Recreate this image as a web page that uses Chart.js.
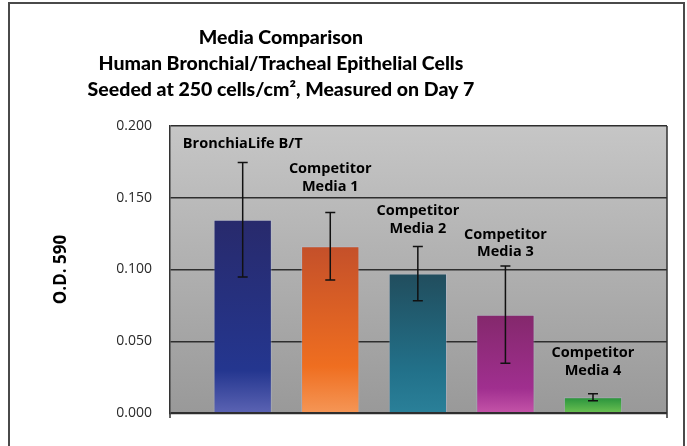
<!DOCTYPE html>
<html>
<head>
<meta charset="utf-8">
<script src="https://cdn.jsdelivr.net/npm/chart.js@4"></script>
<style>
  html, body { margin: 0; padding: 0; background: #fff; }
  #wrap { width: 687px; height: 446px; position: relative; }
</style>
</head>
<body>
<div id="wrap"><canvas id="mediaChart" width="687" height="446"></canvas></div>
<script>
// --- data ---
const titleLines = [
  "Media Comparison",
  "Human Bronchial/Tracheal Epithelial Cells",
  "Seeded at 250 cells/cm\u00B2, Measured on Day 7"
];
const categories = [
  ["BronchiaLife B/T"],
  ["Competitor", "Media 1"],
  ["Competitor", "Media 2"],
  ["Competitor", "Media 3"],
  ["Competitor", "Media 4"]
];
const odValues = [0.1346, 0.1162, 0.0972, 0.0685, 0.0110];
const odErrors = [0.0399, 0.0235, 0.0189, 0.0339, 0.0025];
const yTicks = [0, 0.05, 0.10, 0.15, 0.20];
const yAxisTitle = "O.D. 590";

// gradient stops per bar (top -> bottom)
const barStops = [
  [[0, "#282a6c"], [0.78, "#24368f"], [1, "#5b63b3"]],
  [[0, "#c4502a"], [0.72, "#ef6e20"], [1, "#f59656"]],
  [[0, "#214d5d"], [0.7, "#22718a"], [1, "#2a8099"]],
  [[0, "#84286c"], [0.75, "#a02f8f"], [1, "#c453a8"]],
  [[0, "#27923c"], [1, "#6cc152"]]
];

const FONT = "'Open Sans', sans-serif";
const TITLE_FONT = "Lato, 'Open Sans', sans-serif";

// gray plot background, outer frame, right border, title
const framePlugin = {
  id: "frame",
  beforeDraw(chart) {
    const { ctx, chartArea: a } = chart;
    ctx.save();
    const g = ctx.createLinearGradient(0, a.top, 0, a.bottom);
    g.addColorStop(0, "#c6c6c6");
    g.addColorStop(1, "#999999");
    ctx.fillStyle = g;
    ctx.fillRect(a.left, a.top, a.right - a.left, a.bottom - a.top);
    ctx.restore();
  },
  afterDraw(chart) {
    const { ctx, chartArea: a } = chart;
    ctx.save();
    // outer frame (open at bottom)
    ctx.strokeStyle = "#4a4a4a";
    ctx.lineWidth = 2;
    ctx.beginPath();
    ctx.moveTo(9, 450);
    ctx.lineTo(9, 3);
    ctx.lineTo(684, 3);
    ctx.lineTo(684, 450);
    ctx.stroke();
    // plot right border + small tick stubs under the axis
    ctx.strokeStyle = "#333";
    ctx.lineWidth = 1.5;
    ctx.beginPath();
    ctx.moveTo(a.right, a.top);
    ctx.lineTo(a.right, a.bottom + 5);
    ctx.moveTo(a.left, a.bottom);
    ctx.lineTo(a.left, a.bottom + 5);
    ctx.stroke();
    // title
    ctx.fillStyle = "#000";
    ctx.font = "900 19.5px " + TITLE_FONT;
    ctx.textAlign = "center";
    ctx.textBaseline = "middle";
    titleLines.forEach((t, i) => ctx.fillText(t, 281, 38 + i * 26));
    ctx.restore();
  }
};

// error bars and category labels above them
const errorPlugin = {
  id: "errorLabels",
  afterDatasetsDraw(chart, args, opts) {
    const { ctx } = chart;
    const xs = chart.scales.x, ys = chart.scales.y;
    ctx.save();
    ctx.strokeStyle = "#111";
    ctx.lineWidth = 1.5;
    odValues.forEach((v, i) => {
      const x = xs.getPixelForValue(i);
      const yTop = ys.getPixelForValue(v + odErrors[i]);
      const yBot = ys.getPixelForValue(v - odErrors[i]);
      ctx.beginPath();
      ctx.moveTo(x, yTop); ctx.lineTo(x, yBot);
      ctx.moveTo(x - 5, yTop); ctx.lineTo(x + 5, yTop);
      ctx.moveTo(x - 5, yBot); ctx.lineTo(x + 5, yBot);
      ctx.stroke();

      const lines = categories[i];
      const lastY = yTop - opts.gaps[i];
      ctx.fillStyle = "#000";
      ctx.font = "bold 14.5px " + FONT;
      ctx.textAlign = "center";
      ctx.textBaseline = "middle";
      lines.forEach((t, k) => {
        ctx.fillText(t, x, lastY - (lines.length - 1 - k) * 17.5);
      });
    });
    ctx.restore();
  }
};

new Chart(document.getElementById("mediaChart"), {
  type: "bar",
  data: {
    datasets: [{
      data: odValues.map((v, i) => ({ x: i, y: v })),
      backgroundColor: (c) => {
        const chart = c.chart;
        if (!chart.chartArea || c.dataIndex === undefined) return "#888";
        const ys = chart.scales.y;
        const top = ys.getPixelForValue(odValues[c.dataIndex]);
        const bot = ys.getPixelForValue(0);
        const g = chart.ctx.createLinearGradient(0, top, 0, bot);
        barStops[c.dataIndex].forEach(s => g.addColorStop(s[0], s[1]));
        return g;
      },
      borderColor: "rgba(190,195,225,0.35)",
      borderWidth: 1,
      barPercentage: 0.74,
      categoryPercentage: 0.9
    }]
  },
  options: {
    responsive: false,
    animation: false,
    layout: { padding: { left: 40, top: 126, right: 20, bottom: 33 } },
    plugins: {
      legend: { display: false },
      tooltip: { enabled: false },
      errorLabels: { gaps: [19, 26, 18, 14, 23] }
    },
    scales: {
      x: {
        type: "linear",
        offset: false,
        min: -0.83,
        max: 4.845,
        display: false,
        afterBuildTicks: (s) => { s.ticks = categories.map((c, i) => ({ value: i })); }
      },
      y: {
        min: 0,
        max: 0.2,
        afterFit: (s) => { s.width = 130; },
        afterBuildTicks: (s) => { s.ticks = yTicks.map(v => ({ value: v })); },
        ticks: {
          padding: 18,
          color: "#2a2a2a",
          font: { family: FONT, size: 14 },
          callback: (v) => Number(v).toFixed(3)
        },
        grid: {
          drawTicks: false,
          color: "#2e2e2e",
          lineWidth: (c) => (c.tick && c.tick.value === 0 ? 2.2 : 1.4)
        },
        border: { display: true, color: "#333", width: 1.5 },
        title: {
          display: true,
          text: yAxisTitle,
          color: "#000",
          font: { family: FONT, size: 17, weight: "bold" },
          padding: { top: 11, bottom: 0 }
        }
      }
    }
  },
  plugins: [framePlugin, errorPlugin]
});
</script>
</body>
</html>
